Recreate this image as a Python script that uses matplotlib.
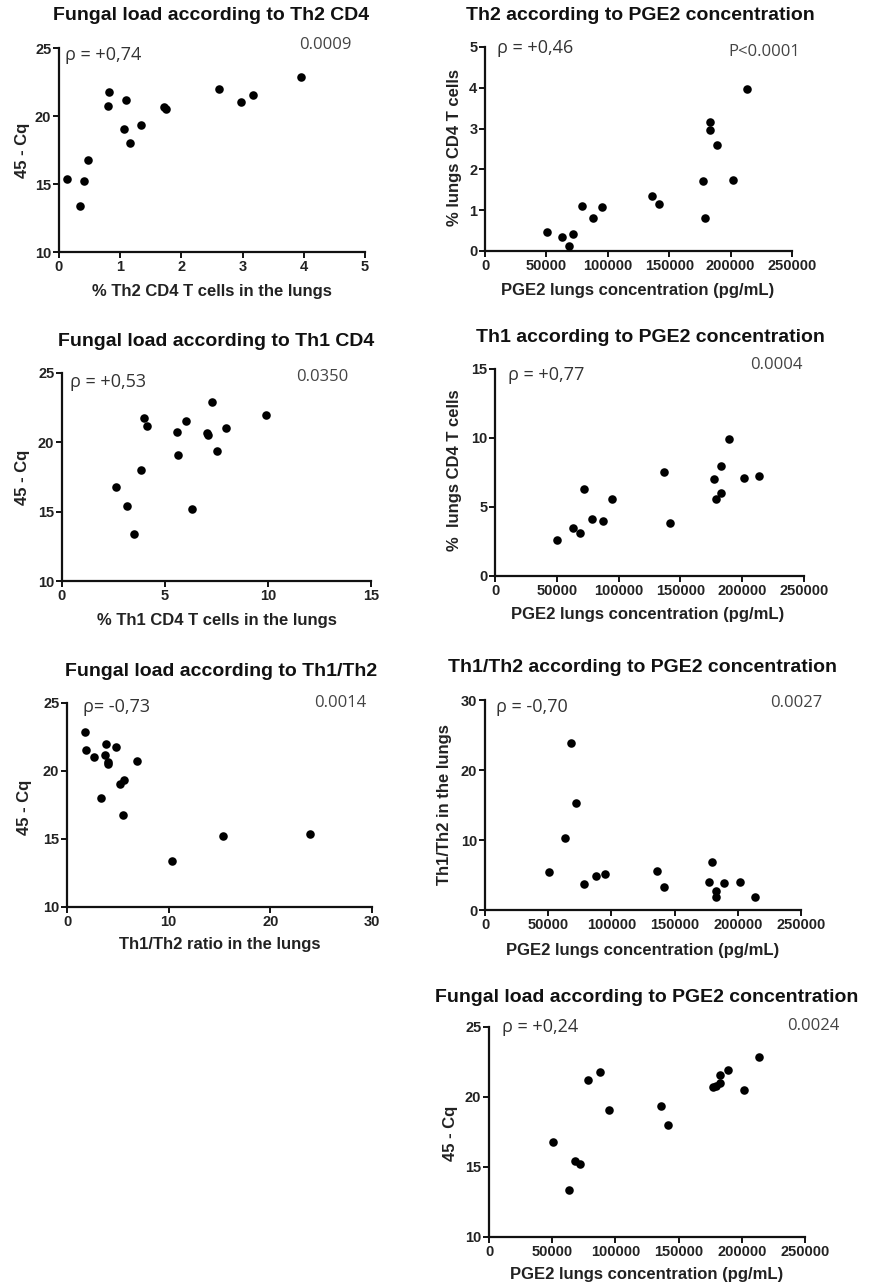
import matplotlib
matplotlib.use("Agg")
import matplotlib.pyplot as plt

# ---- data (one value per mouse) ----
pge2 = [50300, 63050, 68400, 71900, 78700, 87700, 95000, 136400, 141900,
        177450, 179200, 182850, 182900, 189250, 201800, 213600]
th2_pct = [0.47, 0.35, 0.13, 0.41, 1.10, 0.81, 1.07, 1.34, 1.16,
           1.71, 0.80, 3.17, 2.97, 2.61, 1.75, 3.96]
th1_pct = [2.61, 3.48, 3.15, 6.29, 4.11, 3.99, 5.61, 7.50, 3.85,
           7.02, 5.56, 6.00, 7.98, 9.92, 7.11, 7.28]
th1_th2_ratio = [5.5, 10.3, 23.9, 15.3, 3.7, 4.8, 5.2, 5.6, 3.3,
                 4.0, 6.9, 1.85, 2.7, 3.8, 4.0, 1.8]
fungal_load = [16.76, 13.38, 15.40, 15.19, 21.20, 21.76, 19.08, 19.34, 18.00,
               20.68, 20.76, 21.55, 21.00, 21.95, 20.53, 22.88]

titles = ["Fungal load according to Th2 CD4",
          "Th2 according to PGE2 concentration",
          "Fungal load according to Th1 CD4",
          "Th1 according to PGE2 concentration",
          "Fungal load according to Th1/Th2",
          "Th1/Th2 according to PGE2 concentration",
          "Fungal load according to PGE2 concentration"]
xlabels = ["% Th2 CD4 T cells in the lungs",
           "PGE2 lungs concentration (pg/mL)",
           "% Th1 CD4 T cells in the lungs",
           "PGE2 lungs concentration (pg/mL)",
           "Th1/Th2 ratio in the lungs",
           "PGE2 lungs concentration (pg/mL)",
           "PGE2 lungs concentration (pg/mL)"]
ylabels = ["45 - Cq", "% lungs CD4 T cells", "45 - Cq", "%  lungs CD4 T cells",
           "45 - Cq", "Th1/Th2 in the lungs", "45 - Cq"]
rho_texts = ["ρ = +0,74", "ρ = +0,46", "ρ = +0,53", "ρ = +0,77",
             "ρ= -0,73", "ρ = -0,70", "ρ = +0,24"]
p_texts = ["0.0009", "P<0.0001", "0.0350", "0.0004", "0.0014", "0.0027", "0.0024"]

pairs = [(th2_pct, fungal_load), (pge2, th2_pct), (th1_pct, fungal_load),
         (pge2, th1_pct), (th1_th2_ratio, fungal_load), (pge2, th1_th2_ratio),
         (pge2, fungal_load)]
xlims = [(0, 5), (0, 250000), (0, 15), (0, 250000), (0, 30), (0, 250000), (0, 250000)]
ylims = [(10, 25), (0, 5), (10, 25), (0, 15), (10, 25), (0, 30), (10, 25)]
xticks = [[0, 1, 2, 3, 4, 5], [0, 50000, 100000, 150000, 200000, 250000],
          [0, 5, 10, 15], [0, 50000, 100000, 150000, 200000, 250000],
          [0, 10, 20, 30], [0, 50000, 100000, 150000, 200000, 250000],
          [0, 50000, 100000, 150000, 200000, 250000]]
yticks = [[10, 15, 20, 25], [0, 1, 2, 3, 4, 5], [10, 15, 20, 25], [0, 5, 10, 15],
          [10, 15, 20, 25], [0, 10, 20, 30], [10, 15, 20, 25]]

# ---- layout (pixels) ----
W, H = 869, 1287
# left, right, top, bottom of each plot area
boxes = [(59, 365, 48, 252), (485, 792, 47, 251), (62, 371, 373, 581),
         (495, 804, 369, 576), (67, 372, 703, 907), (485, 801, 700, 910),
         (489, 805, 1027, 1237)]
title_pos = [(211, 16), (640, 16), (216, 342), (650, 338), (221, 672), (643, 668), (647, 997)]
xlabel_pos = [(212, 292), (638, 290), (217, 620), (648, 615), (220, 945), (643, 950), (647, 1275)]
ylabel_pos = [(22, 150), (454, 148), (22, 477), (455, 470), (25, 807), (445, 805), (450, 1133)]
rho_pos = [(65, 55), (497, 48), (70, 382), (508, 375), (83, 707), (496, 707), (502, 1027)]
p_pos = [(325, 45), (764, 52), (322, 377), (776, 365), (340, 703), (796, 703), (813, 1026)]

fig = plt.figure(figsize=(W / 100, H / 100), dpi=100)
fig.patch.set_facecolor("white")

BOLD = ["Liberation Sans", "DejaVu Sans"]
ANN = ["Open Sans", "DejaVu Sans"]


def fx(px):
    return px / W


def fy(py):
    return 1 - py / H


for i in range(7):
    l, r, t, b = boxes[i]
    ax = fig.add_axes([fx(l), fy(b), (r - l) / W, (b - t) / H])
    xs, ys = pairs[i]
    ax.scatter(xs, ys, s=38, color="black", zorder=3, clip_on=False, linewidths=0)
    ax.set_xlim(*xlims[i])
    ax.set_ylim(*ylims[i])
    ax.set_xticks(xticks[i])
    ax.set_yticks(yticks[i])
    ax.set_xticklabels([str(v) for v in xticks[i]])
    ax.set_yticklabels([str(v) for v in yticks[i]])
    for s in ("top", "right"):
        ax.spines[s].set_visible(False)
    for s in ("left", "bottom"):
        ax.spines[s].set_linewidth(1.6)
        ax.spines[s].set_color("#111111")
    ax.tick_params(direction="out", length=4, width=1.4, colors="#111111", pad=1.5)
    for lab in ax.get_xticklabels() + ax.get_yticklabels():
        lab.set_fontfamily(BOLD)
        lab.set_fontweight("bold")
        lab.set_fontsize(10.5)
        lab.set_color("#222222")

    fig.text(fx(title_pos[i][0]), fy(title_pos[i][1]), titles[i], ha="center", va="center",
             fontfamily=BOLD, fontweight="bold", fontsize=14, color="#111111")
    fig.text(fx(xlabel_pos[i][0]), fy(xlabel_pos[i][1]), xlabels[i], ha="center", va="center",
             fontfamily=BOLD, fontweight="bold", fontsize=12, color="#222222")
    fig.text(fx(ylabel_pos[i][0]), fy(ylabel_pos[i][1]), ylabels[i], ha="center", va="center",
             rotation=90, fontfamily=BOLD, fontweight="bold", fontsize=12, color="#222222")
    fig.text(fx(rho_pos[i][0]), fy(rho_pos[i][1]), rho_texts[i], ha="left", va="center",
             fontfamily=ANN, fontsize=13, color="#333333")
    fig.text(fx(p_pos[i][0]), fy(p_pos[i][1]), p_texts[i], ha="center", va="center",
             fontfamily=ANN, fontsize=12, color="#444444")

fig.savefig("out.png", dpi=100, facecolor="white")
